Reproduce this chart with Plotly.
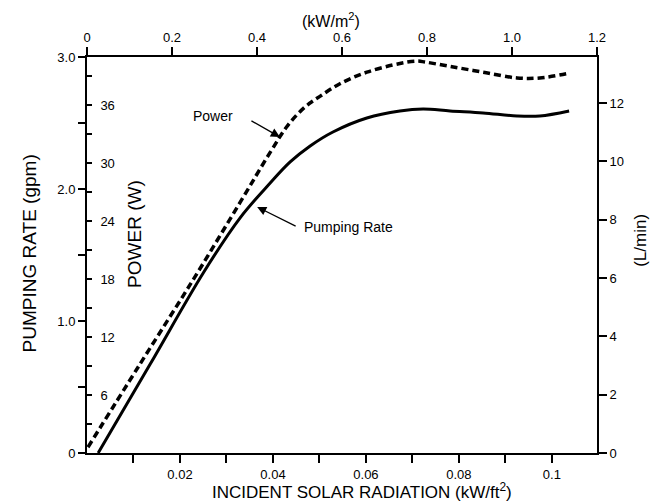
import plotly.graph_objects as go

# Incident solar radiation (kW/ft^2) and curve values
pump_x = [0.0024, 0.0136, 0.0250, 0.0329, 0.0394, 0.0437, 0.0480, 0.0529, 0.0602, 0.0673, 0.0723, 0.0781, 0.0852, 0.0925, 0.0974, 0.1037]
pump_gpm = [0.0, 0.674, 1.364, 1.780, 2.045, 2.205, 2.326, 2.432, 2.538, 2.591, 2.606, 2.591, 2.576, 2.553, 2.553, 2.591]

power_x = [0.0002, 0.0114, 0.0228, 0.0329, 0.0394, 0.0432, 0.0469, 0.0501, 0.0544, 0.0602, 0.0673, 0.0710, 0.0727, 0.0781, 0.0852, 0.0925, 0.0974, 0.1037]
power_w = [0.6, 9.2, 17.9, 25.9, 31.1, 33.9, 35.8, 36.9, 38.2, 39.4, 40.3, 40.55, 40.45, 40.0, 39.4, 38.8, 38.8, 39.3]

bottom_ticks = [0, 0.01, 0.02, 0.03, 0.04, 0.05, 0.06, 0.07, 0.08, 0.09, 0.1]
bottom_labels = ["0", "", "0.02", "", "0.04", "", "0.06", "", "0.08", "", "0.1"]
top_ticks = [0, 0.2, 0.4, 0.6, 0.8, 1.0, 1.2]
top_labels = ["0", "0.2", "0.4", "0.6", "0.8", "1.0", "1.2"]
gpm_ticks = [0, 0.5, 1.0, 1.5, 2.0, 2.5, 3.0]
gpm_labels = ["0", "", "1.0", "", "2.0", "", "3.0"]
watt_ticks = [3, 6, 9, 12, 15, 18, 21, 24, 27, 30, 33, 36, 39]
watt_labels = ["", "6", "", "12", "", "18", "", "24", "", "30", "", "36", ""]
lpm_ticks = [0, 2, 4, 6, 8, 10, 12]
lpm_labels = ["0", "2", "4", "6", "8", "10", "12"]

FONT = "Liberation Sans, Arial, sans-serif"
tickfont = dict(family=FONT, size=13, color="black")

fig = go.Figure()
fig.add_trace(go.Scatter(x=pump_x, y=pump_gpm, mode="lines", line=dict(color="black", width=3, shape="spline"),
                         xaxis="x", yaxis="y", showlegend=False, hoverinfo="skip"))
fig.add_trace(go.Scatter(x=power_x, y=power_w, mode="lines",
                         line=dict(color="black", width=3.5, dash="7px,4px", shape="spline"),
                         xaxis="x", yaxis="y3", showlegend=False, hoverinfo="skip"))
# invisible traces to anchor the secondary axes
fig.add_trace(go.Scatter(x=[0], y=[0], mode="markers", marker=dict(opacity=0), xaxis="x2", yaxis="y",
                         showlegend=False, hoverinfo="skip"))
fig.add_trace(go.Scatter(x=[0], y=[0], mode="markers", marker=dict(opacity=0), xaxis="x", yaxis="y2",
                         showlegend=False, hoverinfo="skip"))

axis_common = dict(showgrid=False, zeroline=False, linecolor="black", linewidth=2,
                   tickcolor="black", tickwidth=2, tickfont=tickfont)

fig.update_layout(
    width=665, height=504,
    margin=dict(l=79, r=76, t=49, b=59),
    plot_bgcolor="white", paper_bgcolor="white",
    font=dict(family=FONT, color="black"),
    xaxis=dict(range=[0, 0.1097], tickvals=bottom_ticks, ticktext=bottom_labels, ticks="outside",
               ticklen=8, showline=True, anchor="y", side="bottom", **axis_common),
    xaxis2=dict(range=[0, 1.2], tickvals=top_ticks, ticktext=top_labels, ticks="outside",
                ticklen=8, showline=True, overlaying="x", side="top", anchor="y", **axis_common),
    yaxis=dict(range=[0, 3.0], tickvals=gpm_ticks, ticktext=gpm_labels, ticks="outside",
               ticklen=7, showline=True, side="left", anchor="x", **axis_common),
    yaxis2=dict(range=[0, 13.58], tickvals=lpm_ticks, ticktext=lpm_labels, ticks="outside",
                ticklen=8, showline=True, side="right", overlaying="y", anchor="x", **axis_common),
    yaxis3=dict(range=[0, 40.97], tickvals=watt_ticks, ticktext=watt_labels, ticks="inside",
                ticklen=5, showline=False, side="left", overlaying="y", anchor="x",
                ticklabelposition="inside", ticklabelstandoff=8, **axis_common),
)

ann = []
ann.append(dict(text="PUMPING RATE (gpm)", xref="paper", yref="paper", x=-0.113, y=0.505, textangle=-90,
                xanchor="center", yanchor="middle", showarrow=False, font=dict(family=FONT, size=19)))
ann.append(dict(text="POWER (W)", xref="paper", yref="paper", x=0.092, y=0.553, textangle=-90,
                xanchor="center", yanchor="middle", showarrow=False, font=dict(family=FONT, size=19)))
ann.append(dict(text="(L/min)", xref="paper", yref="paper", x=1.086, y=0.538, textangle=-90,
                xanchor="center", yanchor="middle", showarrow=False, font=dict(family=FONT, size=17)))
ann.append(dict(text="INCIDENT SOLAR RADIATION (kW/ft<sup>2</sup>)", xref="paper", yref="paper",
                x=0.54, y=-0.095, xanchor="center", yanchor="middle", showarrow=False,
                font=dict(family=FONT, size=17)))
ann.append(dict(text="(kW/m<sup>2</sup>)", xref="paper", yref="paper", x=0.478, y=1.093,
                xanchor="center", yanchor="middle", showarrow=False, font=dict(family=FONT, size=16)))
ann.append(dict(text="Power", xref="x", yref="y", x=0.0271, y=2.553, xanchor="center", showarrow=False,
                font=dict(family=FONT, size=14)))
ann.append(dict(text="Pumping Rate", xref="x", yref="y", x=0.0462, y=1.712, xanchor="left", showarrow=False,
                font=dict(family=FONT, size=14)))
ann.append(dict(text="", xref="x", yref="y", x=0.0415, y=2.394, ax=-30, ay=-17, showarrow=True,
                arrowhead=2, arrowsize=1.4, arrowwidth=1.3, arrowcolor="black", standoff=0))
ann.append(dict(text="", xref="x", yref="y", x=0.0366, y=1.864, ax=40, ay=20, showarrow=True,
                arrowhead=2, arrowsize=1.4, arrowwidth=1.3, arrowcolor="black", standoff=0))
fig.update_layout(annotations=ann)

fig.write_html("out.html")
